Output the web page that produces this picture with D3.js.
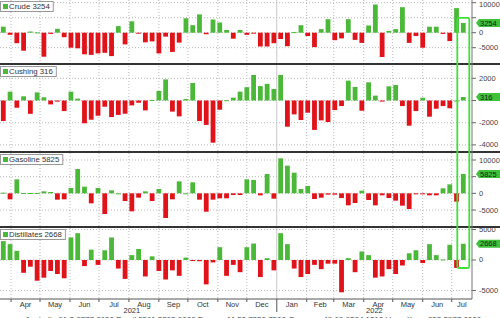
<!DOCTYPE html>
<html>
<head>
<meta charset="utf-8">
<script src="https://cdn.jsdelivr.net/npm/d3@7"></script>
<style>
body { margin: 0; background: #fff; }
text { font-family: "Liberation Sans", Arial, sans-serif; }
</style>
</head>
<body>
<div id="chart"></div>
<script>
// weekly changes, thousand barrels (EIA report dates, weekly from 24 Mar 2021)
var firstReport = new Date(2021, 2, 24);

var crude = [2000, -700, -3500, -6000, 400, 100, -8000, -400, 1300, -1500,
  -5000, -5200, -7200, -7400, -6900, -6700, -7800, 2200, -3900, 3800,
  -300, -3200, -2900, -6900, -1300, -6400, -3300, 4800, 2500, 6100,
  -500, 4400, 3400, 900, -2000, 900, -700, -200, -4600, -4600,
  -3500, -2100, -4500, 200, 2500, -1100, -4800, 1200, 4500, -2500,
  -1900, 4500, -2400, -3400, 2400, 9400, -8100, 600, 1200, 8500,
  -3400, -1100, -5000, 2000, 2000, -400, -2800, 8200, 3254];

var cushing = [-1850, 800, -650, 380, -1200, 730, 290, -350, -100, -950,
  800, 170, -2050, -1730, -1370, -560, -1490, -1300, -1190, -440,
  -200, -890, 50, 860, 1900, -1000, -1430, 135, 1580, -1850,
  -2200, -3800, -830, 30, 260, 800, 1200, 2300, 1300, 1500,
  1040, 2300, -2360, -1250, -1760, -1100, -2650, -1790, -1940, -860,
  -500, 1790, 1220, -920, 1640, 440, -100, 1280, 1400, -500,
  -2270, -950, 250, -1460, -740, -500, -700, 0, 316];

var gasoline = [200, -1800, 4200, 100, 100, 100, 600, 400, -1900, -1800,
  1600, 7300, 2000, -3000, 1600, -6200, 900, 0, -2300, -5400,
  -1300, 600, -2300, 1300, -7400, -1800, 3600, 0, 3300, -1900,
  -5500, -1900, -1500, -1500, -500, -500, 4200, 4000, -600, 5800,
  -1600, 10500, 8300, 6200, 1300, 2200, -1700, -1300, -400, -400,
  -1400, -3600, -2900, 800, -2000, -3600, -600, -1400, -2200, -3700,
  -4700, -300, -300, -600, -600, 1500, 2700, -2500, 5825];

var distillates = [3100, 2600, 1500, -2100, -1100, -3400, -2900, -1800, -2300, -3000,
  3700, 4400, -1000, 1700, -800, 1600, 3700, -1400, -3100, 800,
  1800, -2700, 600, -1800, -3200, -1700, -2600, 400, -100, -200,
  -4000, -400, 2100, -2600, -800, -2000, 2100, 2700, -2800, 300,
  -1700, 4400, 2600, -1400, -2800, -2300, -800, -1500, -600, -600,
  -5300, 300, -2000, 1400, 800, -2900, -2700, -1500, -2300, -900,
  1100, 1600, -500, 2600, 800, 100, 2500, -1300, 2668];

var crudeTicks = [10000, 5000, 0, -5000];
var cushingTicks = [2000, 0, -2000, -4000];
var gasolineTicks = [10000, 5000, 0, -5000];
var distillatesTicks = [5000, 0, -5000];

var yearLabels = [new Date(2021, 7, 4), new Date(2022, 3, 12)];

var footer = "Australia 61 2 9777 8600 Brazil 5511 2395 9000 Europe 44 20 7330 7500 Germany 49 69 9204 1210 Hong Kong 852 2977 6000";

var dates = crude.map(function(d, i) { return d3.timeDay.offset(firstReport, 7 * i); });

var width = 500, height = 318, plotRight = 472, axisY = 299;
var green = "#4cb83a", red = "#e0121a", grid = "#b8b8b8";

var panels = [
  {name: "Crude", data: crude, ticks: crudeTicks, domain: [-10100, 10900], range: [63, 0]},
  {name: "Cushing", data: cushing, ticks: cushingTicks, domain: [-4550, 3200], range: [151, 65]},
  {name: "Gasoline", data: gasoline, ticks: gasolineTicks, domain: [-9800, 12100], range: [226, 153]},
  {name: "Distillates", data: distillates, ticks: distillatesTicks, domain: [-6400, 5250], range: [299, 228]}
];

var x = d3.scaleTime()
    .domain([new Date(2021, 2, 20, 14), new Date(2022, 6, 22)])
    .range([0, plotRight]);

var svg = d3.select("#chart").append("svg")
    .attr("width", width)
    .attr("height", height);

var months = d3.timeMonth.range(d3.timeMonth.ceil(x.domain()[0]), x.domain()[1]);

// vertical grid at month starts
svg.selectAll(".vgrid")
    .data(months)
    .enter().append("line")
    .attr("x1", function(d) { return x(d); })
    .attr("x2", function(d) { return x(d); })
    .attr("y1", 0)
    .attr("y2", axisY)
    .attr("stroke", function(d) { return d.getMonth() === 0 ? "#c8c8c8" : grid; })
    .attr("stroke-dasharray", function(d) { return d.getMonth() === 0 ? null : "1,2"; })
    .attr("stroke-width", 1);

panels.forEach(function(p) {
  var y = d3.scaleLinear().domain(p.domain).range(p.range);
  p.y = y;
  var g = svg.append("g");
  var last = p.data[p.data.length - 1];
  var by = y(last);

  g.selectAll(".hgrid")
      .data(p.ticks)
      .enter().append("line")
      .attr("x1", 0).attr("x2", plotRight)
      .attr("y1", function(d) { return y(d); })
      .attr("y2", function(d) { return y(d); })
      .attr("stroke", grid)
      .attr("stroke-dasharray", "1,2");

  g.selectAll(".bar")
      .data(p.data)
      .enter().append("rect")
      .attr("x", function(d, i) { return x(dates[i]) - 2.4; })
      .attr("width", 4.8)
      .attr("y", function(d) { return y(Math.max(0, d)); })
      .attr("height", function(d) { return Math.max(1, Math.abs(y(d) - y(0))); })
      .attr("fill", function(d) { return d >= 0 ? green : red; });

  // right axis
  g.selectAll(".tick")
      .data(p.ticks)
      .enter().append("line")
      .attr("x1", plotRight).attr("x2", plotRight + 4)
      .attr("y1", function(d) { return y(d); })
      .attr("y2", function(d) { return y(d); })
      .attr("stroke", "#666");
  // labels hidden behind the value badge are left out
  g.selectAll(".tlabel")
      .data(p.ticks.filter(function(t) { return Math.abs(y(t) - by) > 7.5; }))
      .enter().append("text")
      .attr("x", plotRight + 7)
      .attr("y", function(d) { return Math.max(7, y(d) + 2.5); })
      .attr("font-size", 7.5)
      .attr("fill", "#444")
      .text(function(d) { return String(d); });

  // legend box
  var lg = g.append("g").attr("transform", "translate(0," + (p.range[1] + 1) + ")");
  var lt = lg.append("text")
      .attr("x", 9).attr("y", 8)
      .attr("font-size", 7.8)
      .attr("fill", "#333")
      .text(p.name + " " + last);
  var tw = lt.node().getComputedTextLength();
  lg.insert("rect", "text")
      .attr("x", 0.5).attr("y", 0.5)
      .attr("width", tw + 12).attr("height", 10)
      .attr("fill", "#fff").attr("stroke", "#999");
  lg.append("rect")
      .attr("x", 3).attr("y", 3).attr("width", 5).attr("height", 5)
      .attr("fill", green);

  // value badge
  svg.append("path")
      .attr("d", "M" + (plotRight + 4) + "," + by + "L" + (plotRight + 7) + "," + (by - 4) +
        "L" + width + "," + (by - 4) + "L" + width + "," + (by + 4) + "L" + (plotRight + 7) + "," + (by + 4) + "Z")
      .attr("fill", "#3fc13a");
  svg.append("text")
      .attr("x", plotRight + 8).attr("y", by + 2.6)
      .attr("font-size", 7.5)
      .attr("fill", "#1a1a1a")
      .text(String(last));
});

// panel separators
[64, 152, 227].forEach(function(v) {
  svg.append("line")
      .attr("x1", 0).attr("x2", width)
      .attr("y1", v).attr("y2", v)
      .attr("stroke", "#333").attr("stroke-width", 2);
});

// right axis line and bottom axis
svg.append("line")
    .attr("x1", plotRight).attr("x2", plotRight)
    .attr("y1", 0).attr("y2", axisY)
    .attr("stroke", "#777");
svg.append("line")
    .attr("x1", 0).attr("x2", plotRight)
    .attr("y1", axisY).attr("y2", axisY)
    .attr("stroke", "#555");

svg.selectAll(".mtick")
    .data(months)
    .enter().append("line")
    .attr("x1", function(d) { return x(d); })
    .attr("x2", function(d) { return x(d); })
    .attr("y1", axisY)
    .attr("y2", function(d) { return d.getMonth() === 0 ? axisY + 13 : axisY + 3; })
    .attr("stroke", "#555");

// month labels at the middle of the visible part of each month
var labelMonths = d3.timeMonth.range(d3.timeMonth.floor(x.domain()[0]), x.domain()[1]).filter(function(m) {
  var a = Math.max(m, x.domain()[0]), b = Math.min(d3.timeMonth.offset(m, 1), x.domain()[1]);
  return (b - a) > 15 * 864e5;
});
svg.selectAll(".mlabel")
    .data(labelMonths)
    .enter().append("text")
    .attr("x", function(m) {
      var a = Math.max(m, x.domain()[0]), b = Math.min(d3.timeMonth.offset(m, 1), x.domain()[1]);
      return x(new Date((a + b) / 2));
    })
    .attr("y", axisY + 8)
    .attr("text-anchor", "middle")
    .attr("font-size", 7.5)
    .attr("fill", "#333")
    .text(d3.timeFormat("%b"));

svg.selectAll(".ylabel")
    .data(yearLabels)
    .enter().append("text")
    .attr("x", function(d) { return x(d); })
    .attr("y", axisY + 14)
    .attr("text-anchor", "middle")
    .attr("font-size", 7.5)
    .attr("fill", "#333")
    .text(d3.timeFormat("%Y"));

svg.append("text")
    .attr("x", 25).attr("y", 322)
    .attr("font-size", 8)
    .attr("fill", "#444")
    .text(footer);

// highlight around the latest week
var lx = x(dates[dates.length - 1]);
var boxTop = panels[0].y(crude[crude.length - 1]) - 5;
var boxBottom = panels[3].y(0) + 8;
svg.append("rect")
    .attr("x", lx - 6).attr("y", boxTop)
    .attr("width", 12).attr("height", boxBottom - boxTop)
    .attr("rx", 1.5)
    .attr("fill", "none")
    .attr("stroke", "#3ee03a")
    .attr("stroke-width", 1.8);
</script>
</body>
</html>
